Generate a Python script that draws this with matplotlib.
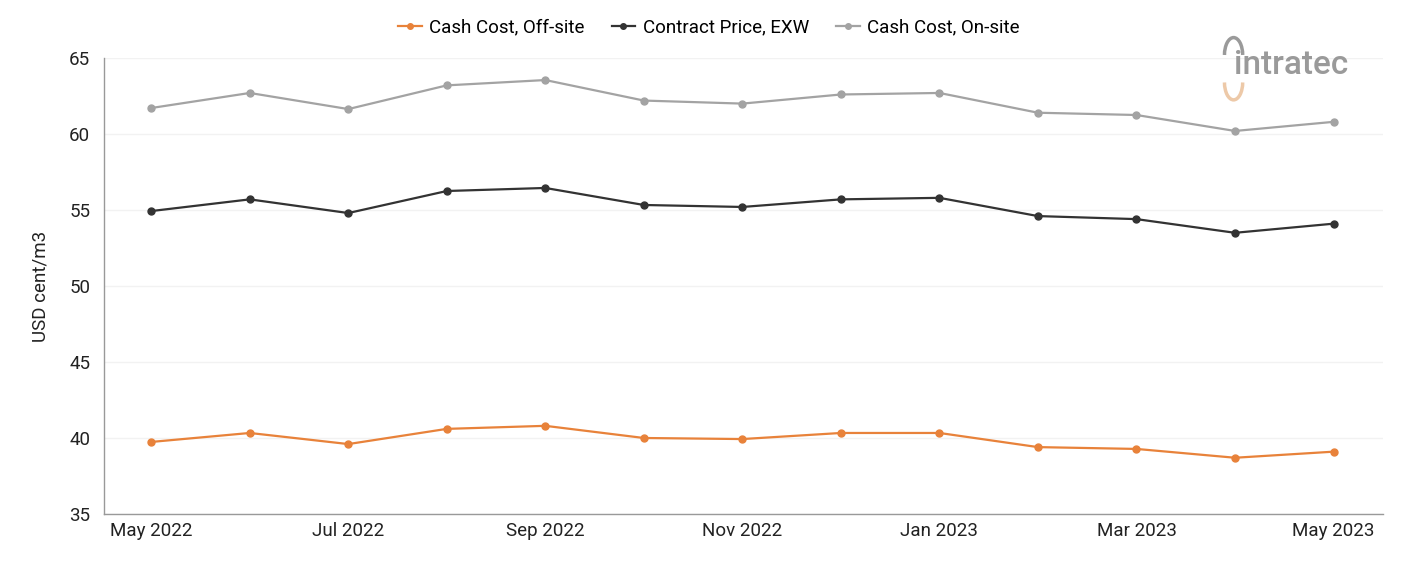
import matplotlib
matplotlib.use("Agg")
import matplotlib.pyplot as plt
from matplotlib.patches import Arc

plt.rcParams['font.family'] = ['Roboto', 'DejaVu Sans']

months = ["May 2022", "Jun 2022", "Jul 2022", "Aug 2022", "Sep 2022", "Oct 2022", "Nov 2022",
          "Dec 2022", "Jan 2023", "Feb 2023", "Mar 2023", "Apr 2023", "May 2023"]
offsite = [39.74, 40.33, 39.6, 40.6, 40.8, 40.0, 39.93, 40.33, 40.33, 39.4, 39.28, 38.7, 39.1]
contract = [54.93, 55.7, 54.8, 56.25, 56.45, 55.33, 55.2, 55.7, 55.8, 54.6, 54.4, 53.5, 54.1]
onsite = [61.71, 62.7, 61.64, 63.2, 63.55, 62.2, 62.0, 62.6, 62.7, 61.4, 61.25, 60.2, 60.8]
yticks = [35, 40, 45, 50, 55, 60, 65]

fig = plt.figure(figsize=(14.01, 5.61), dpi=100)
ax = fig.add_axes([0.0742, 0.0838, 0.9128, 0.8128])

x = list(range(len(months)))
c_off, c_con, c_on = "#e8823a", "#333333", "#a3a3a3"
ax.plot(x, offsite, color=c_off, lw=1.6, marker='o', ms=5, label="Cash Cost, Off-site")
ax.plot(x, contract, color=c_con, lw=1.6, marker='o', ms=5, label="Contract Price, EXW")
ax.plot(x, onsite, color=c_on, lw=1.6, marker='o', ms=5, label="Cash Cost, On-site")

ax.set_xlim(-0.48, 12.5)
ax.set_ylim(35, 65)
ax.set_yticks(yticks)
ax.set_xticks(x[::2])
ax.set_xticklabels(months[::2])
ax.tick_params(axis='both', length=0, labelsize=13.5, colors="#222222")
ax.tick_params(axis='y', pad=10)
ax.tick_params(axis='x', pad=6)
ax.grid(axis='y', color="#f2f2f2", lw=1)
ax.set_axisbelow(True)
for s in ['top', 'right']:
    ax.spines[s].set_visible(False)
for s in ['left', 'bottom']:
    ax.spines[s].set_color("#999999")
    ax.spines[s].set_linewidth(1)
ax.set_ylabel("USD cent/m3", fontsize=13.5, color="#222222", labelpad=14)

fig.legend(*ax.get_legend_handles_labels(), loc='center', bbox_to_anchor=(0.506, 0.951),
           ncol=3, frameon=False, fontsize=13.5, handlelength=1.25, columnspacing=1.45,
           handletextpad=0.4, markerscale=0.8)

# logo
fig.text(0.881, 0.885, "intratec", fontsize=24, color="#9a9a9a", fontweight='medium',
         ha='left', va='center')
fig.add_artist(Arc((0.8805, 0.902), 0.013, 0.062, theta1=0, theta2=180,
                   transform=fig.transFigure, color="#9a9a9a", lw=2.5))
fig.add_artist(Arc((0.8805, 0.853), 0.013, 0.062, theta1=180, theta2=360,
                   transform=fig.transFigure, color="#edc9a8", lw=2.5))

fig.savefig("out.png", dpi=100, facecolor="white")
